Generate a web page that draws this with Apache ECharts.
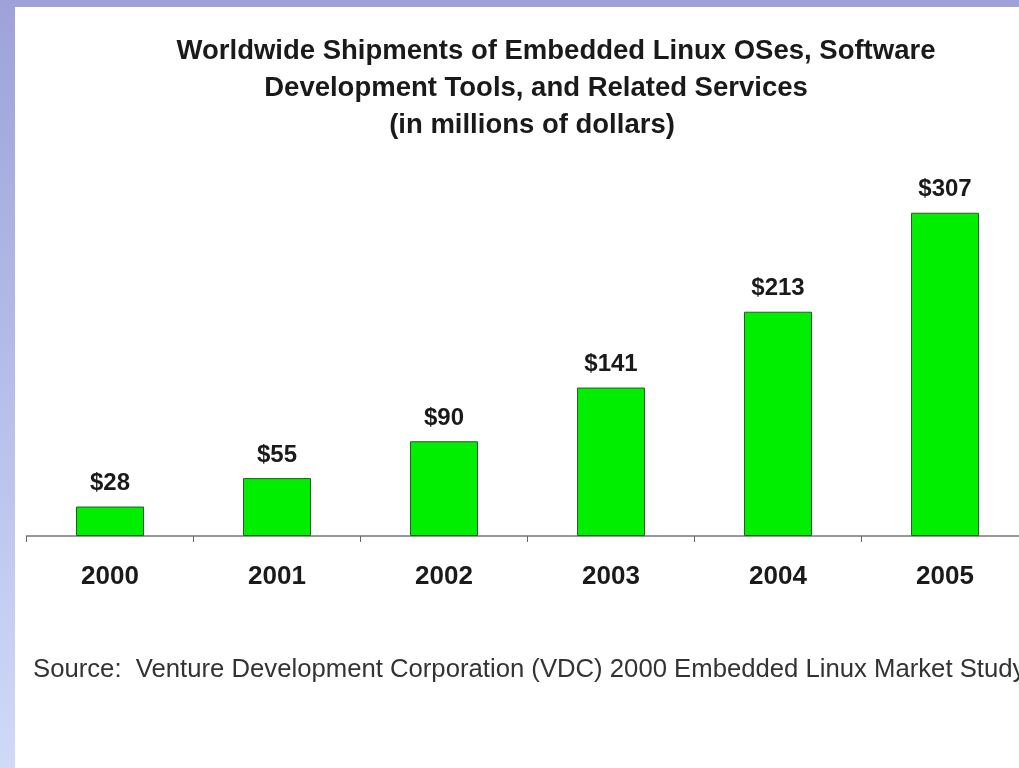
<!DOCTYPE html>
<html>
<head>
<meta charset="utf-8">
<script src="https://cdn.jsdelivr.net/npm/echarts@6/dist/echarts.min.js"></script>
<style>
html,body{margin:0;padding:0;overflow:hidden;width:1019px;height:768px;}
#c{width:1040px;height:768px;}
</style>
</head>
<body>
<div id="c"></div>
<script>
const years = ['2000','2001','2002','2003','2004','2005'];
const values = [28, 55, 90, 141, 213, 307];
const titleLines = [
  'Worldwide Shipments of Embedded Linux OSes, Software',
  'Development Tools, and Related Services',
  '(in millions of dollars)'
];
const sourceText = 'Source:  Venture Development Corporation (VDC) 2000 Embedded Linux Market Study';

const chart = echarts.init(document.getElementById('c'));
const font = '"Liberation Sans", Arial, sans-serif';
const tStyle = {fontFamily:font,fontWeight:'bold',fontSize:27.5,color:'#1a1a1a'};
chart.setOption({
  backgroundColor: new echarts.graphic.LinearGradient(0,0,0,1,[
    {offset:0,color:'#9ea2d9'},{offset:1,color:'#d0d9f8'}
  ]),
  animation:false,
  graphic:[
    {type:'rect', z:-10, shape:{x:15,y:7,width:1025,height:761}, style:{fill:'#ffffff'}},
    {type:'text', left:33, top:657, style:{text:sourceText, font:'25.7px ' + font, fill:'#333333'}}
  ],
  title: [
    {text:titleLines[0], left:551, top:32, textAlign:'center', textStyle:tStyle},
    {text:titleLines[1], left:531, top:69, textAlign:'center', textStyle:tStyle},
    {text:titleLines[2], left:527, top:106, textAlign:'center', textStyle:tStyle}
  ],
  grid:{left:26.5, right:11.5, top:178, bottom:232, containLabel:false},
  xAxis:{
    type:'category', data:years,
    axisLine:{lineStyle:{color:'#777', width:1.5}},
    axisTick:{show:true, length:6, lineStyle:{color:'#666'}},
    axisLabel:{fontFamily:font, fontWeight:'bold', fontSize:26, color:'#1a1a1a', margin:28}
  },
  yAxis:{type:'value', min:0, max:340, show:false, splitLine:{show:false}},
  series:[{
    type:'bar', data:values, barWidth:68,
    itemStyle:{color:'#00ee00', borderColor:'#2a5a2a', borderWidth:1},
    label:{show:true, position:'top', distance:11, formatter:p=>'$'+p.value,
      fontFamily:font, fontWeight:'bold', fontSize:24, color:'#1a1a1a'}
  }]
});
</script>
</body>
</html>
